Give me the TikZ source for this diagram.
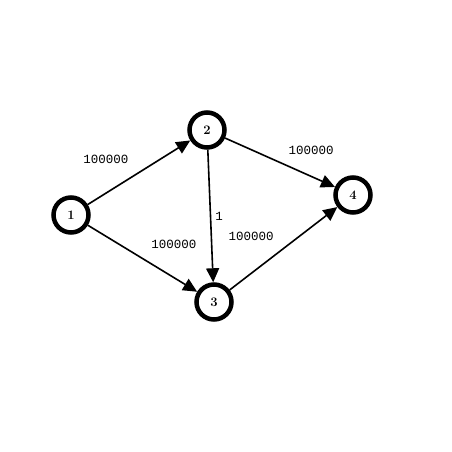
\documentclass[tikz,border=0pt]{standalone}
\usepackage{fontspec}
\newfontfamily\labfont{Liberation Mono}
\usetikzlibrary{positioning, shapes, arrows.meta}

\tikzset{
    vert/.style={circle,draw=black,line width=4.5pt,minimum size=35pt,inner sep=0pt,font=\fontsize{13}{13}\selectfont\bfseries},
    edge/.style={line width=1.6pt,-{Triangle[length=14pt,width=13pt]}},
    wlab/.style={font=\labfont\fontsize{12.5}{12.5}\selectfont}
}

\begin{document}
\begin{tikzpicture}[x=1pt,y=-1pt]
    \useasboundingbox (0,0) rectangle (452,452);

    \node[vert] (n1) at (71,215) {1};
    \node[vert] (n2) at (207,130) {2};
    \node[vert] (n3) at (214,302) {3};
    \node[vert] (n4) at (353,195) {4};

    \draw[edge] (n1) -- (n2); %1-2
    \draw[edge] (n1) -- (n3); %1-3
    \draw[edge] (n2) -- (n3); %2-3
    \draw[edge] (n2) -- (n4); %2-4
    \draw[edge] (n3) -- (n4); %3-4

    \node[wlab] (w12) at (106,159) {100000};
    \node[wlab] (w13) at (174,244) {100000};
    \node[wlab] (w23) at (219,216) {1};
    \node[wlab] (w24) at (311,150) {100000};
    \node[wlab] (w34) at (251,236) {100000};
\end{tikzpicture}
\end{document}
